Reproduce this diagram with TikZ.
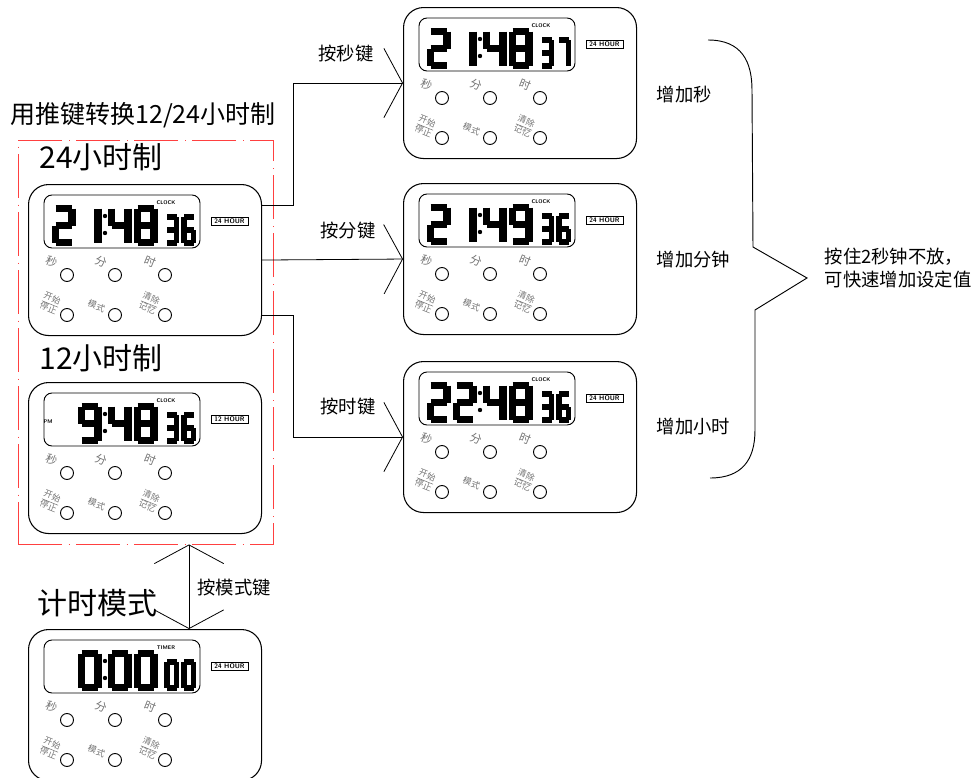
\documentclass[tikz,border=0pt]{standalone}
\usepackage{fontspec}
\usepackage{tikz}
\usepackage{colortbl}
\usetikzlibrary{arrows.meta}
\newfontfamily\cjk{Noto Sans CJK SC}

% segments of one LCD digit, frame \dw x \dh
\def\sega{(0,0) -- (\dw,0)}
\def\segb{(\dw,0) -- (\dw,\dh/2)}
\def\segc{(\dw,\dh/2) -- (\dw,\dh)}
\def\segd{(0,\dh) -- (\dw,\dh)}
\def\sege{(0,\dh/2) -- (0,\dh)}
\def\segf{(0,0) -- (0,\dh/2)}
\def\segg{(0,\dh/2) -- (\dw,\dh/2)}
\def\segn{}
\expandafter\def\csname dig0\endcsname{a,b,c,d,e,f}
\expandafter\def\csname dig1\endcsname{b,c}
\expandafter\def\csname dig2\endcsname{a,b,g,e,d}
\expandafter\def\csname dig3\endcsname{a,b,g,c,d}
\expandafter\def\csname dig4\endcsname{f,g,b,c}
\expandafter\def\csname dig6\endcsname{a,f,g,e,c,d}
\expandafter\def\csname dig7\endcsname{a,b,c}
\expandafter\def\csname dig8\endcsname{a,b,c,d,e,f,g}
\expandafter\def\csname dig9\endcsname{a,b,c,d,f,g}
\expandafter\def\csname dign\endcsname{n}

\newcommand\lcddigit[5]{% x, y, w, h, digit
  \begin{scope}[shift={(#1,#2)}]
    \def\dw{#3}\def\dh{#4}
    \edef\seglist{\csname dig#5\endcsname}
    \foreach \s in \seglist {%
      \expandafter\let\expandafter\segpath\csname seg\s\endcsname
      \draw[line width=#4*0.155pt] \segpath;}
  \end{scope}}

\newcommand\timerpanel[7]{% name, x, y, tag, hour, big digits, small digits
  \node[panel] (#1) at (#2,#3) {};
  \begin{scope}[shift={(#2,#3)}]
    \draw[lcd] (16,11) rectangle (172,64);
    \node[tag] at (138,19) {#4};
    \node[hourbox] at (201.5,37.5) {#5};
    \foreach \d [count=\i] in {#6} {%
      \pgfmathsetmacro\dx{27.5+26*(\i-1)+4*(\i>2)}
      \lcddigit{\dx}{24.5}{16.5}{34}{\d}}
    \foreach \d [count=\i] in {#7} {%
      \pgfmathsetmacro\dx{139+17*(\i-1)}
      \lcddigit{\dx}{33}{9.5}{26}{\d}}
    \fill (77,32) circle (2.2);
    \fill (77,49) circle (2.2);
    % keys
    \foreach \bx in {39,87,137} {
      \draw[keyring] (\bx,91) circle (6.5);
      \draw[keyring] (\bx,131) circle (6.5);
    }
    \node[keylabel] at (23.5,78) {秒};
    \node[keylabel] at (73,78) {分};
    \node[keylabel] at (122,78) {时};
    \node[keylabel2] at (22,120) {\begin{tabular}{@{}c@{}}开始\\\hline 停止\end{tabular}};
    \node[keylabel2] at (68.5,122) {模式};
    \node[keylabel2] at (121,120) {\begin{tabular}{@{}c@{}}清除\\\hline 记忆\end{tabular}};
  \end{scope}}

\tikzset{
  panel/.style={draw, line width=0.8pt, rounded corners=15pt, anchor=north west,
    minimum width=174.75pt, minimum height=113.25pt, inner sep=0pt},
  lcd/.style={line width=0.7pt, rounded corners=6pt},
  tag/.style={font=\sffamily\bfseries\fontsize{4}{4}\selectfont, inner sep=0pt},
  hourbox/.style={draw, line width=0.6pt, font=\sffamily\bfseries\fontsize{5}{5}\selectfont,
    minimum width=27.75pt, minimum height=5.8pt, inner sep=0pt},
  keyring/.style={line width=0.7pt},
  keylabel/.style={font=\cjk\fontsize{8.5}{8.5}\selectfont, text=black!55, rotate=-22, inner sep=0pt},
  keylabel2/.style={font=\cjk\fontsize{6.5}{6.5}\selectfont, text=black!55, rotate=-22, inner sep=0pt,
    execute at begin node={\renewcommand\arraystretch{1.1}\arrayrulecolor{black!55}}},
  title/.style={font=\cjk\fontsize{22.5}{24}\selectfont},
  subtitle/.style={font=\cjk\fontsize{18.75}{20}\selectfont},
  lbl/.style={font=\cjk\fontsize{13.75}{17}\selectfont},
  conn/.style={-{Straight Barb[length=14pt,width=52pt]}, line width=0.6pt},
  biconn/.style={{Straight Barb[length=14pt,width=52pt]}-{Straight Barb[length=14pt,width=52pt]}, line width=0.6pt},
  redframe/.style={draw=red!75, line width=0.7pt, dash pattern=on 33pt off 5pt on 0.5pt off 5pt,
    minimum width=191.25pt, minimum height=303pt, inner sep=0pt}
}

\begin{document}
\begin{tikzpicture}[x=0.75pt,y=-0.75pt]
  \useasboundingbox (0,0) rectangle (979,778);

  % panels
  \timerpanel{ps}{403}{7}{CLOCK}{24 HOUR}{2,1,4,8}{3,7}
  \timerpanel{pm}{403}{183}{CLOCK}{24 HOUR}{2,1,4,9}{3,6}
  \timerpanel{ph}{403}{361}{CLOCK}{24 HOUR}{2,2,4,8}{3,6}
  \timerpanel{p24}{28}{184}{CLOCK}{24 HOUR}{2,1,4,8}{3,6}
  \timerpanel{p12}{28}{382}{CLOCK}{12 HOUR}{n,9,4,8}{3,6}
  \timerpanel{ptm}{28}{629}{TIMER}{24 HOUR}{n,0,0,0}{0,0}
  \node[tag] (pm12) at (48,422) {PM};

  \node[redframe] (mode12) at (145.5,342) {};

  % titles
  \node[subtitle] (switch) at (143,115) {用推键转换12/24小时制};
  \node[title] (t24) at (101,157) {24小时制};
  \node[title] (t12) at (101,358) {12小时制};
  \node[title] (ttm) at (97,603) {计时模式};

  % connectors
  \draw[conn] ([yshift=-15.75pt]p24.north east) -- ++(31,0) |- (ps.west);
  \draw[conn] (p24.east) -- (pm.west);
  \draw[conn] ([yshift=15.75pt]p24.south east) -- ++(31,0) |- (ph.west);
  \coordinate (mk) at ([xshift=33pt]ptm.north);
  \draw[biconn] (mk |- mode12.south) -- (mk);

  \node[lbl] (ks) at (346,54) {按秒键};
  \node[lbl] (km) at (348,231) {按分键};
  \node[lbl] (kh) at (348,407) {按时键};
  \node[lbl] (kmode) at (234,588) {按模式键};

  % brace and notes
  \draw[line width=0.7pt] (708,40) .. controls (742,40) and (752,62) .. (752,90) -- (753,247)
    -- (807,278) -- (755,310) -- (755,430) .. controls (755,460) and (742,478) .. (710,478);
  \node[lbl, anchor=west] (incs) at (652,95) {增加秒};
  \node[lbl, anchor=west] (incm) at (652,260) {增加分钟};
  \node[lbl, anchor=west] (inch) at (652,427) {增加小时};
  \node[lbl, anchor=west, align=left] (hold) at (820,268) {按住2秒钟不放，\\可快速增加设定值};
\end{tikzpicture}
\end{document}
